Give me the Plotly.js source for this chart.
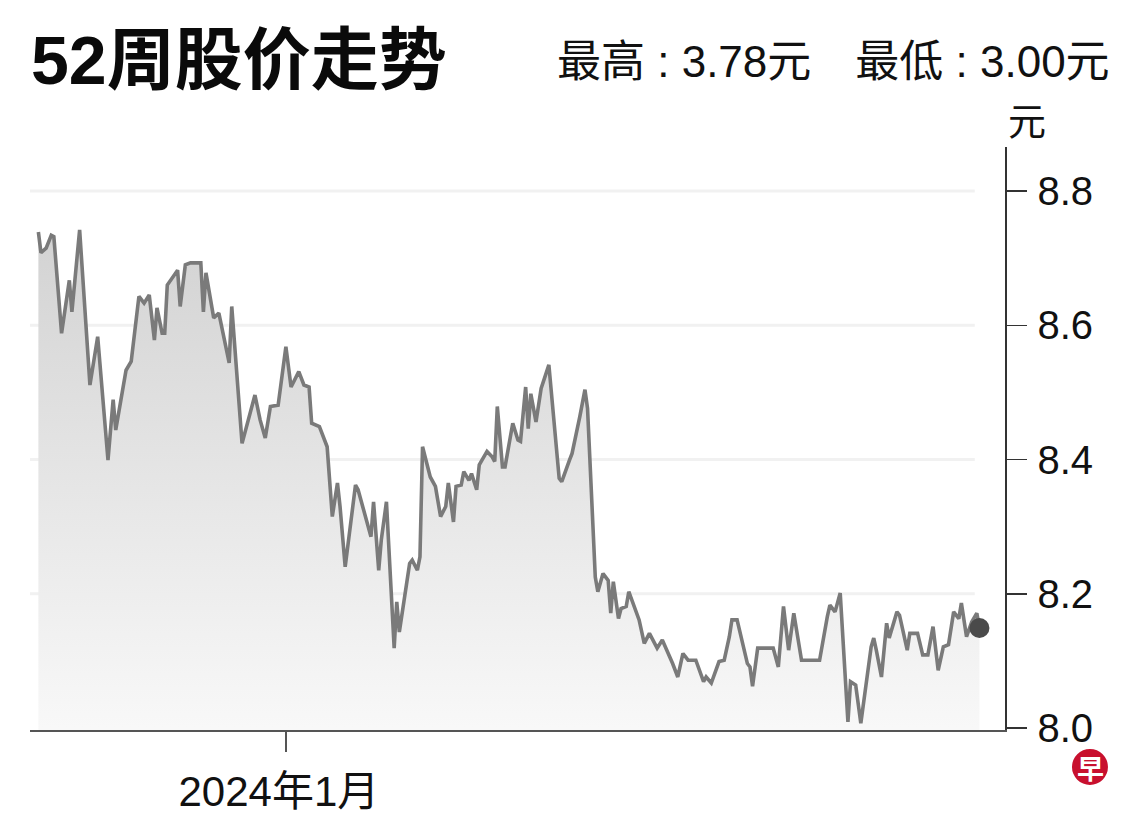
<!DOCTYPE html>
<html>
<head>
<meta charset="utf-8">
<script src="https://cdn.plot.ly/plotly-3.0.1.min.js"></script>
<style>html,body{margin:0;padding:0;background:#fff;}#chart{width:1140px;height:816px;}</style>
</head>
<body>
<div id="chart"></div>
<script>
const dates = ['2023-09-27','2023-09-28','2023-09-30','2023-10-02','2023-10-03','2023-10-06','2023-10-09','2023-10-10','2023-10-13','2023-10-17',
'2023-10-20','2023-10-24','2023-10-26','2023-10-27','2023-10-31','2023-11-02','2023-11-05','2023-11-07','2023-11-09','2023-11-11',
'2023-11-12','2023-11-14','2023-11-15','2023-11-16','2023-11-20','2023-11-21','2023-11-23','2023-11-25','2023-11-29','2023-11-30',
'2023-12-01','2023-12-04','2023-12-06','2023-12-08','2023-12-10','2023-12-11','2023-12-15','2023-12-20','2023-12-22','2023-12-24',
'2023-12-26','2023-12-29','2024-01-01','2024-01-03','2024-01-06','2024-01-08','2024-01-10','2024-01-11','2024-01-14','2024-01-17',
'2024-01-19','2024-01-21','2024-01-22','2024-01-24','2024-01-28','2024-01-29','2024-02-03','2024-02-04','2024-02-06','2024-02-07',
'2024-02-09','2024-02-12','2024-02-13','2024-02-14','2024-02-18','2024-02-19','2024-02-21','2024-02-22','2024-02-23','2024-02-26',
'2024-02-28','2024-03-01','2024-03-03','2024-03-04','2024-03-06','2024-03-07','2024-03-09','2024-03-10','2024-03-12','2024-03-13',
'2024-03-15','2024-03-16','2024-03-19','2024-03-21','2024-03-22','2024-03-23','2024-03-25','2024-03-26','2024-03-29','2024-03-31',
'2024-04-01','2024-04-03','2024-04-04','2024-04-05','2024-04-07','2024-04-09','2024-04-12','2024-04-16','2024-04-17','2024-04-20',
'2024-04-21','2024-04-24','2024-04-26','2024-04-27','2024-04-30','2024-05-01','2024-05-03','2024-05-05','2024-05-06','2024-05-07',
'2024-05-09','2024-05-10','2024-05-12','2024-05-13','2024-05-17','2024-05-19','2024-05-21','2024-05-24','2024-05-26','2024-05-30',
'2024-06-01','2024-06-03','2024-06-05','2024-06-08','2024-06-11','2024-06-12','2024-06-14','2024-06-17','2024-06-19','2024-06-21',
'2024-06-22','2024-06-24','2024-06-28','2024-06-29','2024-06-30','2024-07-02','2024-07-08','2024-07-10','2024-07-12','2024-07-14',
'2024-07-16','2024-07-19','2024-07-26','2024-07-29','2024-07-30','2024-08-01','2024-08-03','2024-08-06','2024-08-07','2024-08-09',
'2024-08-11','2024-08-15','2024-08-16','2024-08-17','2024-08-19','2024-08-21','2024-08-22','2024-08-25','2024-08-26','2024-08-29',
'2024-08-30','2024-09-02','2024-09-04','2024-09-06','2024-09-08','2024-09-10','2024-09-12','2024-09-14','2024-09-16','2024-09-18',
'2024-09-19','2024-09-21','2024-09-23','2024-09-25','2024-09-26'];

const prices = [8.739,8.708,8.715,8.734,8.732,8.588,8.667,8.620,8.742,8.511,
8.583,8.399,8.489,8.444,8.533,8.546,8.643,8.633,8.645,8.578,
8.626,8.588,8.588,8.660,8.682,8.628,8.690,8.693,8.693,8.620,
8.678,8.611,8.618,8.578,8.544,8.628,8.424,8.496,8.459,8.432,
8.479,8.481,8.568,8.508,8.531,8.511,8.508,8.454,8.449,8.419,
8.315,8.365,8.330,8.240,8.362,8.355,8.285,8.337,8.235,8.280,
8.337,8.119,8.188,8.143,8.245,8.250,8.235,8.255,8.419,8.374,
8.360,8.315,8.330,8.365,8.307,8.360,8.362,8.382,8.369,8.379,
8.355,8.392,8.412,8.404,8.397,8.479,8.389,8.389,8.454,8.429,
8.427,8.508,8.446,8.498,8.456,8.506,8.541,8.372,8.367,8.399,
8.409,8.464,8.504,8.476,8.225,8.203,8.230,8.220,8.171,8.218,
8.163,8.178,8.181,8.203,8.161,8.126,8.141,8.119,8.131,8.096,
8.076,8.111,8.101,8.101,8.069,8.076,8.067,8.099,8.101,8.136,
8.161,8.161,8.096,8.091,8.062,8.119,8.119,8.091,8.181,8.116,
8.171,8.101,8.101,8.166,8.183,8.173,8.201,8.009,8.069,8.064,
8.007,8.121,8.134,8.116,8.076,8.156,8.134,8.173,8.168,8.116,
8.141,8.141,8.109,8.109,8.151,8.086,8.121,8.124,8.173,8.163,
8.186,8.136,8.158,8.171,8.149];

const yTickVals = [8.0, 8.2, 8.4, 8.6, 8.8];
const yTickText = ['8.0', '8.2', '8.4', '8.6', '8.8'];
const xTickVals = ['2024-01-01'];
const xTickText = ['2024年1月'];
const titleText = '52周股价走势';
const subText = '最高 : 3.78元　最低 : 3.00元';
const unitText = '元';

const FONT = '"Liberation Sans", Arial, "Noto Sans CJK SC", sans-serif';

const lastIdx = prices.length - 1;

const traces = [
  {
    x: dates, y: prices, type: 'scatter', mode: 'lines',
    line: {color: '#7a7a7a', width: 3.6},
    fill: 'tozeroy',
    fillgradient: {type: 'vertical', start: 8.0, stop: 8.75,
      colorscale: [[0, 'rgba(248,248,248,1)'], [1, 'rgba(210,210,210,1)']]},
    hoverinfo: 'skip'
  },
  {
    x: [dates[lastIdx]], y: [prices[lastIdx]], type: 'scatter', mode: 'markers',
    marker: {color: '#4a4a4a', size: 20},
    hoverinfo: 'skip'
  }
];

const gridShapes = yTickVals.filter(v => v > 8.0).map(v => ({
  type: 'line', xref: 'paper', yref: 'y', x0: 0, x1: 0.969, y0: v, y1: v,
  line: {color: '#f1f1f1', width: 3}, layer: 'below'
}));

const layout = {
  width: 1140, height: 816,
  margin: {l: 30, r: 135, t: 147, b: 86, pad: 0},
  paper_bgcolor: '#ffffff', plot_bgcolor: '#ffffff',
  showlegend: false,
  font: {family: FONT, color: '#111111'},
  xaxis: {
    type: 'date',
    range: ['2023-09-23 18:00', '2024-10-05 22:00'],
    showline: true, linecolor: '#555555', linewidth: 1.5,
    showgrid: false, zeroline: false,
    ticks: 'outside', ticklen: 20, tickwidth: 1.5, tickcolor: '#555555',
    tickmode: 'array', tickvals: xTickVals, ticktext: xTickText,
    tickfont: {family: FONT, size: 42, color: '#111111'},
    ticklabelshift: -7, ticklabelstandoff: 4,
    fixedrange: true
  },
  yaxis: {
    side: 'right',
    range: [7.997, 8.8656],
    showline: true, linecolor: '#333333', linewidth: 1.5,
    showgrid: false, zeroline: false,
    ticks: 'outside', ticklen: 20, tickwidth: 1.5, tickcolor: '#333333',
    tickmode: 'array', tickvals: yTickVals, ticktext: yTickText,
    tickfont: {family: FONT, size: 40, color: '#111111'},
    ticklabelstandoff: 3,
    fixedrange: true
  },
  shapes: gridShapes.concat([
    {type: 'circle', xref: 'paper', yref: 'paper',
     x0: 1.0687, x1: 1.1056, y0: -0.0943, y1: -0.0326,
     fillcolor: '#c8102e', line: {width: 0}}
  ]),
  annotations: [
    {text: '<b>' + titleText + '</b>', xref: 'paper', yref: 'paper', x: -0.001, y: 1.149,
     xanchor: 'left', yanchor: 'middle', showarrow: false,
     font: {family: FONT, size: 68, color: '#0a0a0a'}},
    {text: subText, xref: 'paper', yref: 'paper', x: 1.1097, y: 1.146,
     xanchor: 'right', yanchor: 'middle', showarrow: false,
     font: {family: FONT, size: 44, color: '#111111'}},
    {text: unitText, xref: 'paper', yref: 'paper', x: 1.0226, y: 1.043,
     xanchor: 'center', yanchor: 'middle', showarrow: false,
     font: {family: FONT, size: 38, color: '#111111'}},
    {text: '<b>早</b>', xref: 'paper', yref: 'paper', x: 1.0872, y: -0.0635,
     xanchor: 'center', yanchor: 'middle', showarrow: false,
     font: {family: '"Noto Sans CJK SC", sans-serif', size: 27, color: '#ffffff'}}
  ]
};

Plotly.newPlot('chart', traces, layout, {staticPlot: true, displayModeBar: false});
</script>
</body>
</html>
